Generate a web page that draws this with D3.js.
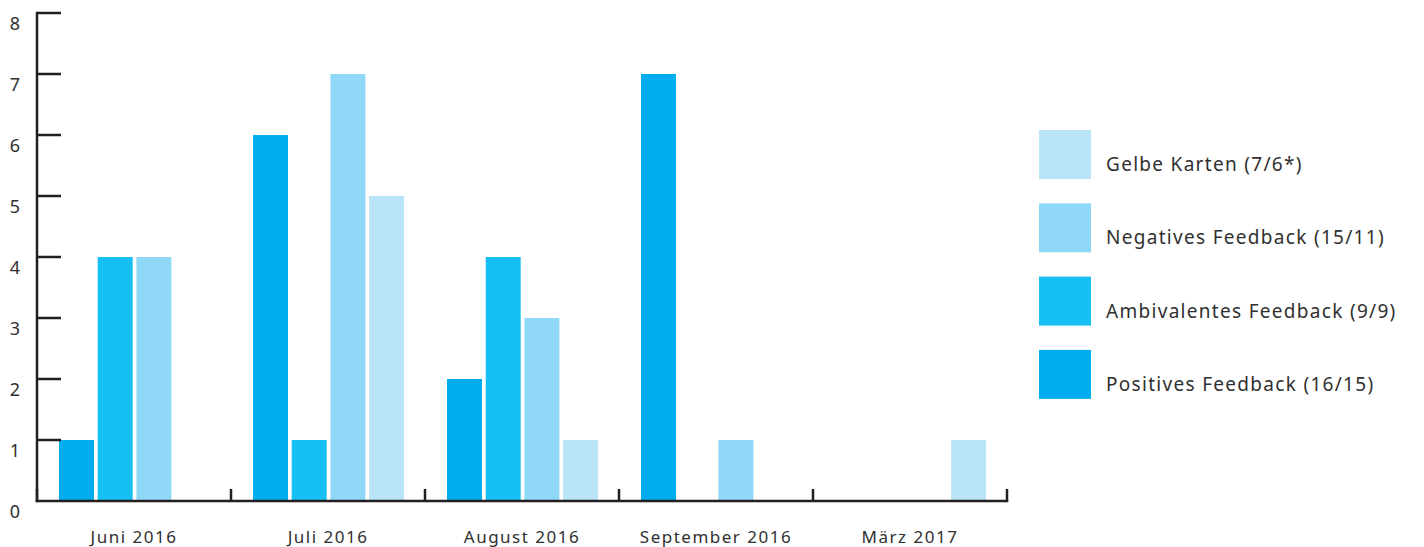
<!DOCTYPE html>
<html>
<head>
<meta charset="utf-8">
<script src="https://cdn.jsdelivr.net/npm/d3@7/dist/d3.min.js"></script>
<style>
  html, body { margin: 0; padding: 0; background: #fff; }
  svg { display: block; }
  text { font-family: "Noto Sans", "Open Sans", sans-serif; fill: #303030; }
</style>
</head>
<body>
<svg id="chart" width="1424" height="547"></svg>
<script>
// Months shown on the x axis
const months = ["Juni 2016", "Juli 2016", "August 2016", "September 2016", "März 2017"];

// Feedback counts per month, one array per series
const positives    = [1, 6, 2, 7, 0];
const ambivalentes = [4, 1, 4, 0, 0];
const negatives    = [4, 7, 3, 1, 0];
const gelbeKarten  = [0, 5, 1, 0, 1];

const seriesKeys   = ["positives", "ambivalentes", "negatives", "gelbe"];
const seriesValues = [positives, ambivalentes, negatives, gelbeKarten];
const seriesColors = ["#00adee", "#16c0f2", "#8fd8f7", "#bae5f9"];

// Legend entries, listed top to bottom
const legendLabels = [
  "Gelbe Karten (7/6*)",
  "Negatives Feedback (15/11)",
  "Ambivalentes Feedback (9/9)",
  "Positives Feedback (16/15)"
];
const legendColors = ["#bae5f9", "#8fd8f7", "#16c0f2", "#00adee"];

const yTicks = [0, 1, 2, 3, 4, 5, 6, 7, 8];

(function draw() {
  const svg = d3.select("#chart");
  const axisColor = "#231f20";

  const plotLeft = 37, plotRight = 1007, plotTop = 13, plotBottom = 501;

  const x = d3.scaleBand().domain(months).range([plotLeft, plotRight]).padding(0);
  const xInner = d3.scaleBand().domain(seriesKeys)
    .range([22, 22 + 3 * 38.7 + 35]).paddingInner(0.096).paddingOuter(0);
  const y = d3.scaleLinear().domain([0, 8]).range([plotBottom, plotTop]);

  // Bars
  const g = svg.append("g");
  months.forEach((m, i) => {
    seriesKeys.forEach((k, s) => {
      const v = seriesValues[s][i];
      if (v <= 0) return;
      g.append("rect")
        .attr("x", x(m) + xInner(k))
        .attr("y", y(v))
        .attr("width", xInner.bandwidth())
        .attr("height", y(0) - y(v))
        .attr("fill", seriesColors[s]);
    });
  });

  // Y axis: line with ticks pointing into the plot, labels offset below each tick
  const yAxis = svg.append("g");
  yAxis.append("line")
    .attr("x1", plotLeft).attr("x2", plotLeft)
    .attr("y1", y(8) - 1.25).attr("y2", y(0) + 1.25)
    .attr("stroke", axisColor).attr("stroke-width", 2.5);
  yTicks.forEach(t => {
    if (t > 0) {
      yAxis.append("line")
        .attr("x1", plotLeft).attr("x2", plotLeft + 24)
        .attr("y1", y(t)).attr("y2", y(t))
        .attr("stroke", axisColor).attr("stroke-width", 2.5);
    }
    yAxis.append("text")
      .attr("x", 15).attr("y", y(t) + 17)
      .attr("text-anchor", "middle")
      .attr("font-size", 18)
      .text(t);
  });

  // X axis: baseline with short upward ticks at the band edges
  const xAxis = svg.append("g");
  xAxis.append("line")
    .attr("x1", plotLeft - 1.25).attr("x2", plotRight + 1.25)
    .attr("y1", y(0)).attr("y2", y(0))
    .attr("stroke", axisColor).attr("stroke-width", 2.5);
  const edges = months.map(m => x(m)).concat([plotRight]);
  edges.forEach(ex => {
    xAxis.append("line")
      .attr("x1", ex).attr("x2", ex)
      .attr("y1", y(0) - 12).attr("y2", y(0))
      .attr("stroke", axisColor).attr("stroke-width", 2.5);
  });
  months.forEach(m => {
    xAxis.append("text")
      .attr("x", x(m) + x.bandwidth() / 2)
      .attr("y", 543)
      .attr("text-anchor", "middle")
      .attr("font-size", 17)
      .attr("letter-spacing", 1.5)
      .text(m);
  });

  // Legend
  const legend = svg.append("g").attr("transform", "translate(1039,130)");
  legendLabels.forEach((lab, i) => {
    const row = legend.append("g").attr("transform", `translate(0,${i * 73.3})`);
    row.append("rect").attr("width", 52).attr("height", 49).attr("fill", legendColors[i]);
    row.append("text").attr("x", 67).attr("y", 41).attr("font-size", 19)
      .attr("letter-spacing", 1.3).text(lab);
  });
})();
</script>
</body>
</html>
